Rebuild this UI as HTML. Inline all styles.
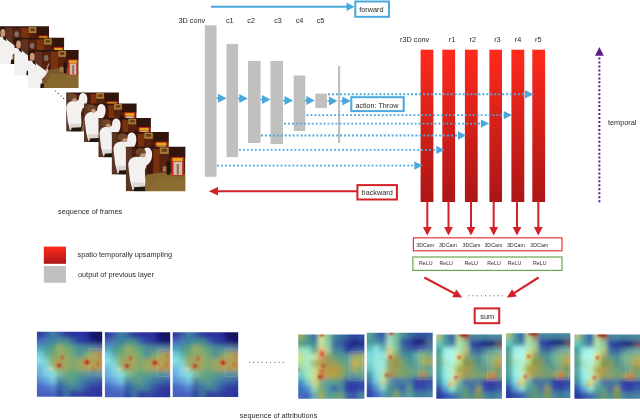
<!DOCTYPE html>
<html><head><meta charset="utf-8"><title>figure</title>
<style>
html,body{margin:0;padding:0;background:#fff;}
body{width:640px;height:420px;overflow:hidden;}
svg{display:block;}
text{font-family:"Liberation Sans",sans-serif;font-size:7.3px;fill:#2a2a2a;}
.s{font-size:5.3px;}
</style></head><body>
<svg width="640" height="420" viewBox="0 0 640 420">
<defs>
<linearGradient id="rg" x1="0" y1="0" x2="0" y2="1"><stop offset="0" stop-color="#ff2a1c"/><stop offset="1" stop-color="#ab1616"/></linearGradient>
<filter id="b1" x="-10%" y="-10%" width="120%" height="120%"><feGaussianBlur stdDeviation="1.5"/></filter>
<filter id="bh" x="-50%" y="-50%" width="200%" height="200%"><feGaussianBlur stdDeviation="1.6"/></filter>
<filter id="fp" x="-10%" y="-10%" width="120%" height="120%"><feGaussianBlur stdDeviation="0.7"/></filter>
<filter id="fg" x="-5%" y="-5%" width="110%" height="110%"><feGaussianBlur stdDeviation="2"/></filter>
<filter id="fh" x="-5%" y="-5%" width="110%" height="110%"><feGaussianBlur stdDeviation="0.9"/></filter>
<filter id="b2" x="-10%" y="-10%" width="120%" height="120%"><feGaussianBlur stdDeviation="3"/></filter>
<filter id="bg" x="-5%" y="-5%" width="110%" height="110%"><feGaussianBlur stdDeviation="2.4"/></filter>
<filter id="b3" x="-20%" y="-20%" width="140%" height="140%"><feGaussianBlur stdDeviation="5"/></filter>
<clipPath id="cf"><rect x="0" y="0" width="100" height="75"/></clipPath>
<clipPath id="ch"><rect x="0" y="0" width="100" height="100"/></clipPath>

<g id="ha"><rect width="100" height="100" fill="#a0a860"/>
<rect x="-20.0" y="-20.0" width="30.3" height="30.3" fill="#2f3ea0"/>
<rect x="9.7" y="-20.0" width="10.6" height="30.3" fill="#3a58a8"/>
<rect x="19.7" y="-20.0" width="10.6" height="30.3" fill="#3a80a0"/>
<rect x="29.7" y="-20.0" width="10.6" height="30.3" fill="#3a60a8"/>
<rect x="39.7" y="-20.0" width="10.6" height="30.3" fill="#2c3c9c"/>
<rect x="49.7" y="-20.0" width="10.6" height="30.3" fill="#2a30a0"/>
<rect x="59.7" y="-20.0" width="10.6" height="30.3" fill="#2c34a0"/>
<rect x="69.7" y="-20.0" width="10.6" height="30.3" fill="#2a2c98"/>
<rect x="79.7" y="-20.0" width="10.6" height="30.3" fill="#181870"/>
<rect x="89.7" y="-20.0" width="30.3" height="30.3" fill="#14145c"/>
<rect x="-20.0" y="9.7" width="30.3" height="10.6" fill="#4a68c0"/>
<rect x="9.7" y="9.7" width="10.6" height="10.6" fill="#4a80b0"/>
<rect x="19.7" y="9.7" width="10.6" height="10.6" fill="#3a80a0"/>
<rect x="29.7" y="9.7" width="10.6" height="10.6" fill="#4a9090"/>
<rect x="39.7" y="9.7" width="10.6" height="10.6" fill="#4a9088"/>
<rect x="49.7" y="9.7" width="10.6" height="10.6" fill="#3a68a8"/>
<rect x="59.7" y="9.7" width="10.6" height="10.6" fill="#3040a0"/>
<rect x="69.7" y="9.7" width="10.6" height="10.6" fill="#2c38a0"/>
<rect x="79.7" y="9.7" width="10.6" height="10.6" fill="#1c1c80"/>
<rect x="89.7" y="9.7" width="30.3" height="10.6" fill="#16166c"/>
<rect x="-20.0" y="19.7" width="30.3" height="10.6" fill="#48a0c0"/>
<rect x="9.7" y="19.7" width="10.6" height="10.6" fill="#4a9898"/>
<rect x="19.7" y="19.7" width="10.6" height="10.6" fill="#58a080"/>
<rect x="29.7" y="19.7" width="10.6" height="10.6" fill="#98b064"/>
<rect x="39.7" y="19.7" width="10.6" height="10.6" fill="#78a870"/>
<rect x="49.7" y="19.7" width="10.6" height="10.6" fill="#58a088"/>
<rect x="59.7" y="19.7" width="10.6" height="10.6" fill="#4a9090"/>
<rect x="69.7" y="19.7" width="10.6" height="10.6" fill="#4a8898"/>
<rect x="79.7" y="19.7" width="10.6" height="10.6" fill="#5a88a0"/>
<rect x="89.7" y="19.7" width="30.3" height="10.6" fill="#5a78a0"/>
<rect x="-20.0" y="29.7" width="30.3" height="10.6" fill="#70d0e0"/>
<rect x="9.7" y="29.7" width="10.6" height="10.6" fill="#58b0a0"/>
<rect x="19.7" y="29.7" width="10.6" height="10.6" fill="#78a870"/>
<rect x="29.7" y="29.7" width="10.6" height="10.6" fill="#90a868"/>
<rect x="39.7" y="29.7" width="10.6" height="10.6" fill="#94a864"/>
<rect x="49.7" y="29.7" width="10.6" height="10.6" fill="#70a878"/>
<rect x="59.7" y="29.7" width="10.6" height="10.6" fill="#4a9098"/>
<rect x="69.7" y="29.7" width="10.6" height="10.6" fill="#70a878"/>
<rect x="79.7" y="29.7" width="10.6" height="10.6" fill="#a4a860"/>
<rect x="89.7" y="29.7" width="30.3" height="10.6" fill="#aca25a"/>
<rect x="-20.0" y="39.7" width="30.3" height="10.6" fill="#88e0e8"/>
<rect x="9.7" y="39.7" width="10.6" height="10.6" fill="#80d0c8"/>
<rect x="19.7" y="39.7" width="10.6" height="10.6" fill="#98a860"/>
<rect x="29.7" y="39.7" width="10.6" height="10.6" fill="#a8a058"/>
<rect x="39.7" y="39.7" width="10.6" height="10.6" fill="#a0a860"/>
<rect x="49.7" y="39.7" width="10.6" height="10.6" fill="#80a870"/>
<rect x="59.7" y="39.7" width="10.6" height="10.6" fill="#98a860"/>
<rect x="69.7" y="39.7" width="10.6" height="10.6" fill="#b49850"/>
<rect x="79.7" y="39.7" width="10.6" height="10.6" fill="#b0a258"/>
<rect x="89.7" y="39.7" width="30.3" height="10.6" fill="#b49850"/>
<rect x="-20.0" y="49.7" width="30.3" height="10.6" fill="#70c0e0"/>
<rect x="9.7" y="49.7" width="10.6" height="10.6" fill="#88d8e8"/>
<rect x="19.7" y="49.7" width="10.6" height="10.6" fill="#a0b870"/>
<rect x="29.7" y="49.7" width="10.6" height="10.6" fill="#ac9858"/>
<rect x="39.7" y="49.7" width="10.6" height="10.6" fill="#94a864"/>
<rect x="49.7" y="49.7" width="10.6" height="10.6" fill="#80a870"/>
<rect x="59.7" y="49.7" width="10.6" height="10.6" fill="#9ca862"/>
<rect x="69.7" y="49.7" width="10.6" height="10.6" fill="#b4a052"/>
<rect x="79.7" y="49.7" width="10.6" height="10.6" fill="#b0a65a"/>
<rect x="89.7" y="49.7" width="30.3" height="10.6" fill="#b49a4c"/>
<rect x="-20.0" y="59.7" width="30.3" height="10.6" fill="#68b0e0"/>
<rect x="9.7" y="59.7" width="10.6" height="10.6" fill="#80d0e8"/>
<rect x="19.7" y="59.7" width="10.6" height="10.6" fill="#88e0e0"/>
<rect x="29.7" y="59.7" width="10.6" height="10.6" fill="#80c0a0"/>
<rect x="39.7" y="59.7" width="10.6" height="10.6" fill="#70a880"/>
<rect x="49.7" y="59.7" width="10.6" height="10.6" fill="#58a088"/>
<rect x="59.7" y="59.7" width="10.6" height="10.6" fill="#58a088"/>
<rect x="69.7" y="59.7" width="10.6" height="10.6" fill="#5c9890"/>
<rect x="79.7" y="59.7" width="10.6" height="10.6" fill="#5090a0"/>
<rect x="89.7" y="59.7" width="30.3" height="10.6" fill="#6090a0"/>
<rect x="-20.0" y="69.7" width="30.3" height="10.6" fill="#5a90d8"/>
<rect x="9.7" y="69.7" width="10.6" height="10.6" fill="#68a8e0"/>
<rect x="19.7" y="69.7" width="10.6" height="10.6" fill="#78c8e0"/>
<rect x="29.7" y="69.7" width="10.6" height="10.6" fill="#4a88a0"/>
<rect x="39.7" y="69.7" width="10.6" height="10.6" fill="#5a9890"/>
<rect x="49.7" y="69.7" width="10.6" height="10.6" fill="#58a088"/>
<rect x="59.7" y="69.7" width="10.6" height="10.6" fill="#4a88a0"/>
<rect x="69.7" y="69.7" width="10.6" height="10.6" fill="#4078a8"/>
<rect x="79.7" y="69.7" width="10.6" height="10.6" fill="#3f70a8"/>
<rect x="89.7" y="69.7" width="30.3" height="10.6" fill="#3a60a8"/>
<rect x="-20.0" y="79.7" width="30.3" height="10.6" fill="#4a68c8"/>
<rect x="9.7" y="79.7" width="10.6" height="10.6" fill="#5078d0"/>
<rect x="19.7" y="79.7" width="10.6" height="10.6" fill="#5a88d0"/>
<rect x="29.7" y="79.7" width="10.6" height="10.6" fill="#3a60a8"/>
<rect x="39.7" y="79.7" width="10.6" height="10.6" fill="#4078a0"/>
<rect x="49.7" y="79.7" width="10.6" height="10.6" fill="#4a8898"/>
<rect x="59.7" y="79.7" width="10.6" height="10.6" fill="#4080a0"/>
<rect x="69.7" y="79.7" width="10.6" height="10.6" fill="#3858a8"/>
<rect x="79.7" y="79.7" width="10.6" height="10.6" fill="#3040a0"/>
<rect x="89.7" y="79.7" width="30.3" height="10.6" fill="#3038a0"/>
<rect x="-20.0" y="89.7" width="30.3" height="30.3" fill="#4a60c0"/>
<rect x="9.7" y="89.7" width="10.6" height="30.3" fill="#4a60c0"/>
<rect x="19.7" y="89.7" width="10.6" height="30.3" fill="#4a68c0"/>
<rect x="29.7" y="89.7" width="10.6" height="30.3" fill="#2a48a0"/>
<rect x="39.7" y="89.7" width="10.6" height="30.3" fill="#3f70a0"/>
<rect x="49.7" y="89.7" width="10.6" height="30.3" fill="#3040a0"/>
<rect x="59.7" y="89.7" width="10.6" height="30.3" fill="#3448a0"/>
<rect x="69.7" y="89.7" width="10.6" height="30.3" fill="#3040a0"/>
<rect x="79.7" y="89.7" width="10.6" height="30.3" fill="#3038a0"/>
<rect x="89.7" y="89.7" width="30.3" height="30.3" fill="#2c34a0"/>
</g>
<g id="hax"><g><ellipse cx="34" cy="52" rx="3" ry="2.8" fill="#c4241a"/><ellipse cx="39" cy="40" rx="2" ry="3.5" fill="#d04a24" opacity=".9"/><ellipse cx="77" cy="47" rx="4" ry="3" fill="#c4241a"/><ellipse cx="96" cy="36" rx="1.6" ry="2" fill="#d04a24" opacity=".8"/><ellipse cx="94" cy="50" rx="1.6" ry="5" fill="#d85a28" opacity=".7"/><ellipse cx="86" cy="56" rx="1.5" ry="4" fill="#d85a28" opacity=".6"/><ellipse cx="22" cy="57" rx="4" ry="1.6" fill="#f0f0c0" opacity=".8"/></g></g>
<g id="hb1"><rect width="100" height="100" fill="#a09850"/>
<rect x="-20.0" y="-20.0" width="30.3" height="30.3" fill="#90a860"/>
<rect x="9.7" y="-20.0" width="10.6" height="30.3" fill="#4a9890"/>
<rect x="19.7" y="-20.0" width="10.6" height="30.3" fill="#3868a8"/>
<rect x="29.7" y="-20.0" width="10.6" height="30.3" fill="#d0e090"/>
<rect x="39.7" y="-20.0" width="10.6" height="30.3" fill="#88c8a0"/>
<rect x="49.7" y="-20.0" width="10.6" height="30.3" fill="#428498"/>
<rect x="59.7" y="-20.0" width="10.6" height="30.3" fill="#3a70a0"/>
<rect x="69.7" y="-20.0" width="10.6" height="30.3" fill="#3458a0"/>
<rect x="79.7" y="-20.0" width="10.6" height="30.3" fill="#2c44a0"/>
<rect x="89.7" y="-20.0" width="30.3" height="30.3" fill="#3050a0"/>
<rect x="-20.0" y="9.7" width="30.3" height="10.6" fill="#58a088"/>
<rect x="9.7" y="9.7" width="10.6" height="10.6" fill="#4a9890"/>
<rect x="19.7" y="9.7" width="10.6" height="10.6" fill="#3f8898"/>
<rect x="29.7" y="9.7" width="10.6" height="10.6" fill="#c8e4a0"/>
<rect x="39.7" y="9.7" width="10.6" height="10.6" fill="#90cca4"/>
<rect x="49.7" y="9.7" width="10.6" height="10.6" fill="#3a78a0"/>
<rect x="59.7" y="9.7" width="10.6" height="10.6" fill="#3458a0"/>
<rect x="69.7" y="9.7" width="10.6" height="10.6" fill="#2c3498"/>
<rect x="79.7" y="9.7" width="10.6" height="10.6" fill="#1c1c80"/>
<rect x="89.7" y="9.7" width="30.3" height="10.6" fill="#262c8c"/>
<rect x="-20.0" y="19.7" width="30.3" height="10.6" fill="#a0e0b8"/>
<rect x="9.7" y="19.7" width="10.6" height="10.6" fill="#90e8d0"/>
<rect x="19.7" y="19.7" width="10.6" height="10.6" fill="#5ca490"/>
<rect x="29.7" y="19.7" width="10.6" height="10.6" fill="#e8c078"/>
<rect x="39.7" y="19.7" width="10.6" height="10.6" fill="#a8d098"/>
<rect x="49.7" y="19.7" width="10.6" height="10.6" fill="#4a8898"/>
<rect x="59.7" y="19.7" width="10.6" height="10.6" fill="#4080a0"/>
<rect x="69.7" y="19.7" width="10.6" height="10.6" fill="#2c3ca0"/>
<rect x="79.7" y="19.7" width="10.6" height="10.6" fill="#3a50a8"/>
<rect x="89.7" y="19.7" width="30.3" height="10.6" fill="#4060a8"/>
<rect x="-20.0" y="29.7" width="30.3" height="10.6" fill="#d0e090"/>
<rect x="9.7" y="29.7" width="10.6" height="10.6" fill="#a0ecd0"/>
<rect x="19.7" y="29.7" width="10.6" height="10.6" fill="#c8e8a0"/>
<rect x="29.7" y="29.7" width="10.6" height="10.6" fill="#e89068"/>
<rect x="39.7" y="29.7" width="10.6" height="10.6" fill="#98a058"/>
<rect x="49.7" y="29.7" width="10.6" height="10.6" fill="#60a088"/>
<rect x="59.7" y="29.7" width="10.6" height="10.6" fill="#58988c"/>
<rect x="69.7" y="29.7" width="10.6" height="10.6" fill="#5c9ca0"/>
<rect x="79.7" y="29.7" width="10.6" height="10.6" fill="#98b070"/>
<rect x="89.7" y="29.7" width="30.3" height="10.6" fill="#a0b068"/>
<rect x="-20.0" y="39.7" width="30.3" height="10.6" fill="#b0e0a0"/>
<rect x="9.7" y="39.7" width="10.6" height="10.6" fill="#a8e8c0"/>
<rect x="19.7" y="39.7" width="10.6" height="10.6" fill="#a0b870"/>
<rect x="29.7" y="39.7" width="10.6" height="10.6" fill="#b0a050"/>
<rect x="39.7" y="39.7" width="10.6" height="10.6" fill="#a09850"/>
<rect x="49.7" y="39.7" width="10.6" height="10.6" fill="#98a058"/>
<rect x="59.7" y="39.7" width="10.6" height="10.6" fill="#70a078"/>
<rect x="69.7" y="39.7" width="10.6" height="10.6" fill="#60a898"/>
<rect x="79.7" y="39.7" width="10.6" height="10.6" fill="#c8b048"/>
<rect x="89.7" y="39.7" width="30.3" height="10.6" fill="#b0b060"/>
<rect x="-20.0" y="49.7" width="30.3" height="10.6" fill="#90d8c0"/>
<rect x="9.7" y="49.7" width="10.6" height="10.6" fill="#a8e8b8"/>
<rect x="19.7" y="49.7" width="10.6" height="10.6" fill="#c8e090"/>
<rect x="29.7" y="49.7" width="10.6" height="10.6" fill="#c89848"/>
<rect x="39.7" y="49.7" width="10.6" height="10.6" fill="#b89848"/>
<rect x="49.7" y="49.7" width="10.6" height="10.6" fill="#b89840"/>
<rect x="59.7" y="49.7" width="10.6" height="10.6" fill="#a0a050"/>
<rect x="69.7" y="49.7" width="10.6" height="10.6" fill="#68a088"/>
<rect x="79.7" y="49.7" width="10.6" height="10.6" fill="#a0b068"/>
<rect x="89.7" y="49.7" width="30.3" height="10.6" fill="#80a880"/>
<rect x="-20.0" y="59.7" width="30.3" height="10.6" fill="#70c8c8"/>
<rect x="9.7" y="59.7" width="10.6" height="10.6" fill="#a0e8c0"/>
<rect x="19.7" y="59.7" width="10.6" height="10.6" fill="#d0e088"/>
<rect x="29.7" y="59.7" width="10.6" height="10.6" fill="#c87840"/>
<rect x="39.7" y="59.7" width="10.6" height="10.6" fill="#b8a050"/>
<rect x="49.7" y="59.7" width="10.6" height="10.6" fill="#b0a048"/>
<rect x="59.7" y="59.7" width="10.6" height="10.6" fill="#90a060"/>
<rect x="69.7" y="59.7" width="10.6" height="10.6" fill="#5c9890"/>
<rect x="79.7" y="59.7" width="10.6" height="10.6" fill="#5a98a0"/>
<rect x="89.7" y="59.7" width="30.3" height="10.6" fill="#60a090"/>
<rect x="-20.0" y="69.7" width="30.3" height="10.6" fill="#4a90c0"/>
<rect x="9.7" y="69.7" width="10.6" height="10.6" fill="#78d0d0"/>
<rect x="19.7" y="69.7" width="10.6" height="10.6" fill="#d8d880"/>
<rect x="29.7" y="69.7" width="10.6" height="10.6" fill="#80ac84"/>
<rect x="39.7" y="69.7" width="10.6" height="10.6" fill="#58a0a0"/>
<rect x="49.7" y="69.7" width="10.6" height="10.6" fill="#58a090"/>
<rect x="59.7" y="69.7" width="10.6" height="10.6" fill="#4a9098"/>
<rect x="69.7" y="69.7" width="10.6" height="10.6" fill="#3448a8"/>
<rect x="79.7" y="69.7" width="10.6" height="10.6" fill="#3040a8"/>
<rect x="89.7" y="69.7" width="30.3" height="10.6" fill="#3850a8"/>
<rect x="-20.0" y="79.7" width="30.3" height="10.6" fill="#4070c0"/>
<rect x="9.7" y="79.7" width="10.6" height="10.6" fill="#5090d0"/>
<rect x="19.7" y="79.7" width="10.6" height="10.6" fill="#90d8b0"/>
<rect x="29.7" y="79.7" width="10.6" height="10.6" fill="#80a868"/>
<rect x="39.7" y="79.7" width="10.6" height="10.6" fill="#4a98a8"/>
<rect x="49.7" y="79.7" width="10.6" height="10.6" fill="#3a68a8"/>
<rect x="59.7" y="79.7" width="10.6" height="10.6" fill="#4a88a0"/>
<rect x="69.7" y="79.7" width="10.6" height="10.6" fill="#3038a8"/>
<rect x="79.7" y="79.7" width="10.6" height="10.6" fill="#3038a8"/>
<rect x="89.7" y="79.7" width="30.3" height="10.6" fill="#3448a8"/>
<rect x="-20.0" y="89.7" width="30.3" height="30.3" fill="#4a68c0"/>
<rect x="9.7" y="89.7" width="10.6" height="30.3" fill="#4068c0"/>
<rect x="19.7" y="89.7" width="10.6" height="30.3" fill="#6cacb4"/>
<rect x="29.7" y="89.7" width="10.6" height="30.3" fill="#a0a858"/>
<rect x="39.7" y="89.7" width="10.6" height="30.3" fill="#58a098"/>
<rect x="49.7" y="89.7" width="10.6" height="30.3" fill="#60a088"/>
<rect x="59.7" y="89.7" width="10.6" height="30.3" fill="#70a078"/>
<rect x="69.7" y="89.7" width="10.6" height="30.3" fill="#4268a4"/>
<rect x="79.7" y="89.7" width="10.6" height="30.3" fill="#3a58a8"/>
<rect x="89.7" y="89.7" width="30.3" height="30.3" fill="#4a88a0"/>
</g>
<g id="hb1x"><g><ellipse cx="36" cy="30" rx="2.5" ry="4" fill="#d83a38" opacity=".9"/><ellipse cx="38" cy="49" rx="2" ry="2" fill="#c82418"/><ellipse cx="33" cy="66" rx="3" ry="2.5" fill="#c0241a"/><ellipse cx="36" cy="57" rx="2" ry="1.5" fill="#d03c28"/><ellipse cx="36" cy="1" rx="4" ry="2" fill="#c82418"/><ellipse cx="0" cy="55" rx="2" ry="3" fill="#d86828"/></g></g>
<g id="hb2"><rect width="100" height="100" fill="#a09048"/>
<rect x="-20.0" y="-20.0" width="30.3" height="30.3" fill="#58a090"/>
<rect x="9.7" y="-20.0" width="10.6" height="30.3" fill="#3a78a0"/>
<rect x="19.7" y="-20.0" width="10.6" height="30.3" fill="#3050a8"/>
<rect x="29.7" y="-20.0" width="10.6" height="30.3" fill="#a0d8b0"/>
<rect x="39.7" y="-20.0" width="10.6" height="30.3" fill="#78b8a0"/>
<rect x="49.7" y="-20.0" width="10.6" height="30.3" fill="#4a9098"/>
<rect x="59.7" y="-20.0" width="10.6" height="30.3" fill="#3a70a0"/>
<rect x="69.7" y="-20.0" width="10.6" height="30.3" fill="#3458a0"/>
<rect x="79.7" y="-20.0" width="10.6" height="30.3" fill="#3050a0"/>
<rect x="89.7" y="-20.0" width="30.3" height="30.3" fill="#3a60a0"/>
<rect x="-20.0" y="9.7" width="30.3" height="10.6" fill="#48989c"/>
<rect x="9.7" y="9.7" width="10.6" height="10.6" fill="#4a90a0"/>
<rect x="19.7" y="9.7" width="10.6" height="10.6" fill="#4a80b0"/>
<rect x="29.7" y="9.7" width="10.6" height="10.6" fill="#a0e0c8"/>
<rect x="39.7" y="9.7" width="10.6" height="10.6" fill="#78bca4"/>
<rect x="49.7" y="9.7" width="10.6" height="10.6" fill="#3058a0"/>
<rect x="59.7" y="9.7" width="10.6" height="10.6" fill="#3040a0"/>
<rect x="69.7" y="9.7" width="10.6" height="10.6" fill="#1c1c80"/>
<rect x="79.7" y="9.7" width="10.6" height="10.6" fill="#1a1a78"/>
<rect x="89.7" y="9.7" width="30.3" height="10.6" fill="#4c6c90"/>
<rect x="-20.0" y="19.7" width="30.3" height="10.6" fill="#60c0c0"/>
<rect x="9.7" y="19.7" width="10.6" height="10.6" fill="#88e0e0"/>
<rect x="19.7" y="19.7" width="10.6" height="10.6" fill="#68b4b0"/>
<rect x="29.7" y="19.7" width="10.6" height="10.6" fill="#c0e0a0"/>
<rect x="39.7" y="19.7" width="10.6" height="10.6" fill="#84c098"/>
<rect x="49.7" y="19.7" width="10.6" height="10.6" fill="#3a78a0"/>
<rect x="59.7" y="19.7" width="10.6" height="10.6" fill="#3458a0"/>
<rect x="69.7" y="19.7" width="10.6" height="10.6" fill="#3c4ca8"/>
<rect x="79.7" y="19.7" width="10.6" height="10.6" fill="#4a68b0"/>
<rect x="89.7" y="19.7" width="30.3" height="10.6" fill="#4a78a8"/>
<rect x="-20.0" y="29.7" width="30.3" height="10.6" fill="#78d8d8"/>
<rect x="9.7" y="29.7" width="10.6" height="10.6" fill="#90e8e8"/>
<rect x="19.7" y="29.7" width="10.6" height="10.6" fill="#98e8e0"/>
<rect x="29.7" y="29.7" width="10.6" height="10.6" fill="#d0c878"/>
<rect x="39.7" y="29.7" width="10.6" height="10.6" fill="#90a860"/>
<rect x="49.7" y="29.7" width="10.6" height="10.6" fill="#4a9098"/>
<rect x="59.7" y="29.7" width="10.6" height="10.6" fill="#3f88a0"/>
<rect x="69.7" y="29.7" width="10.6" height="10.6" fill="#64b0a8"/>
<rect x="79.7" y="29.7" width="10.6" height="10.6" fill="#88b880"/>
<rect x="89.7" y="29.7" width="30.3" height="10.6" fill="#70a888"/>
<rect x="-20.0" y="39.7" width="30.3" height="10.6" fill="#80d8d0"/>
<rect x="9.7" y="39.7" width="10.6" height="10.6" fill="#98e8e0"/>
<rect x="19.7" y="39.7" width="10.6" height="10.6" fill="#98e4d8"/>
<rect x="29.7" y="39.7" width="10.6" height="10.6" fill="#94a460"/>
<rect x="39.7" y="39.7" width="10.6" height="10.6" fill="#a09048"/>
<rect x="49.7" y="39.7" width="10.6" height="10.6" fill="#78a070"/>
<rect x="59.7" y="39.7" width="10.6" height="10.6" fill="#4a9098"/>
<rect x="69.7" y="39.7" width="10.6" height="10.6" fill="#5aa8a0"/>
<rect x="79.7" y="39.7" width="10.6" height="10.6" fill="#a0b868"/>
<rect x="89.7" y="39.7" width="30.3" height="10.6" fill="#b0a050"/>
<rect x="-20.0" y="49.7" width="30.3" height="10.6" fill="#70c4c4"/>
<rect x="9.7" y="49.7" width="10.6" height="10.6" fill="#90e8e8"/>
<rect x="19.7" y="49.7" width="10.6" height="10.6" fill="#a8e8c8"/>
<rect x="29.7" y="49.7" width="10.6" height="10.6" fill="#98a860"/>
<rect x="39.7" y="49.7" width="10.6" height="10.6" fill="#a09850"/>
<rect x="49.7" y="49.7" width="10.6" height="10.6" fill="#78a070"/>
<rect x="59.7" y="49.7" width="10.6" height="10.6" fill="#68a080"/>
<rect x="69.7" y="49.7" width="10.6" height="10.6" fill="#5aa098"/>
<rect x="79.7" y="49.7" width="10.6" height="10.6" fill="#78a880"/>
<rect x="89.7" y="49.7" width="30.3" height="10.6" fill="#60a098"/>
<rect x="-20.0" y="59.7" width="30.3" height="10.6" fill="#48a0a8"/>
<rect x="9.7" y="59.7" width="10.6" height="10.6" fill="#88e0e8"/>
<rect x="19.7" y="59.7" width="10.6" height="10.6" fill="#b0e8b8"/>
<rect x="29.7" y="59.7" width="10.6" height="10.6" fill="#b08850"/>
<rect x="39.7" y="59.7" width="10.6" height="10.6" fill="#90a060"/>
<rect x="49.7" y="59.7" width="10.6" height="10.6" fill="#80a068"/>
<rect x="59.7" y="59.7" width="10.6" height="10.6" fill="#70a078"/>
<rect x="69.7" y="59.7" width="10.6" height="10.6" fill="#68a080"/>
<rect x="79.7" y="59.7" width="10.6" height="10.6" fill="#b09848"/>
<rect x="89.7" y="59.7" width="30.3" height="10.6" fill="#68a088"/>
<rect x="-20.0" y="69.7" width="30.3" height="10.6" fill="#3f80b0"/>
<rect x="9.7" y="69.7" width="10.6" height="10.6" fill="#78d0e8"/>
<rect x="19.7" y="69.7" width="10.6" height="10.6" fill="#c8e090"/>
<rect x="29.7" y="69.7" width="10.6" height="10.6" fill="#6898a0"/>
<rect x="39.7" y="69.7" width="10.6" height="10.6" fill="#4a70b0"/>
<rect x="49.7" y="69.7" width="10.6" height="10.6" fill="#4a88a0"/>
<rect x="59.7" y="69.7" width="10.6" height="10.6" fill="#4078a8"/>
<rect x="69.7" y="69.7" width="10.6" height="10.6" fill="#3448a8"/>
<rect x="79.7" y="69.7" width="10.6" height="10.6" fill="#3040a8"/>
<rect x="89.7" y="69.7" width="30.3" height="10.6" fill="#3850a8"/>
<rect x="-20.0" y="79.7" width="30.3" height="10.6" fill="#3858b0"/>
<rect x="9.7" y="79.7" width="10.6" height="10.6" fill="#5a98d8"/>
<rect x="19.7" y="79.7" width="10.6" height="10.6" fill="#90d8c0"/>
<rect x="29.7" y="79.7" width="10.6" height="10.6" fill="#4a9098"/>
<rect x="39.7" y="79.7" width="10.6" height="10.6" fill="#4a80a0"/>
<rect x="49.7" y="79.7" width="10.6" height="10.6" fill="#3a58a8"/>
<rect x="59.7" y="79.7" width="10.6" height="10.6" fill="#5a9888"/>
<rect x="69.7" y="79.7" width="10.6" height="10.6" fill="#3040a8"/>
<rect x="79.7" y="79.7" width="10.6" height="10.6" fill="#3448a8"/>
<rect x="89.7" y="79.7" width="30.3" height="10.6" fill="#3858a8"/>
<rect x="-20.0" y="89.7" width="30.3" height="30.3" fill="#3048a8"/>
<rect x="9.7" y="89.7" width="10.6" height="30.3" fill="#4a68c8"/>
<rect x="19.7" y="89.7" width="10.6" height="30.3" fill="#5a98c0"/>
<rect x="29.7" y="89.7" width="10.6" height="30.3" fill="#4a9090"/>
<rect x="39.7" y="89.7" width="10.6" height="30.3" fill="#80a060"/>
<rect x="49.7" y="89.7" width="10.6" height="30.3" fill="#4a88a0"/>
<rect x="59.7" y="89.7" width="10.6" height="30.3" fill="#58a090"/>
<rect x="69.7" y="89.7" width="10.6" height="30.3" fill="#4080a0"/>
<rect x="79.7" y="89.7" width="10.6" height="30.3" fill="#3f78a0"/>
<rect x="89.7" y="89.7" width="30.3" height="30.3" fill="#4a88a0"/>
</g>
<g id="hb2x"><g><ellipse cx="36" cy="38" rx="2.2" ry="2.6" fill="#c82c20"/><ellipse cx="30" cy="66" rx="2.2" ry="2" fill="#c02418"/><ellipse cx="37" cy="1" rx="3.5" ry="2" fill="#b81c14"/><ellipse cx="88" cy="66" rx="1.8" ry="1.5" fill="#e07030" opacity=".9"/><ellipse cx="34" cy="26" rx="1.5" ry="2.5" fill="#e8a050" opacity=".8"/></g></g>
<g id="hb3"><rect width="100" height="100" fill="#80944c"/>
<rect x="-20.0" y="-20.0" width="30.3" height="30.3" fill="#a8c080"/>
<rect x="9.7" y="-20.0" width="10.6" height="30.3" fill="#4a98a0"/>
<rect x="19.7" y="-20.0" width="10.6" height="30.3" fill="#3a60a8"/>
<rect x="29.7" y="-20.0" width="10.6" height="30.3" fill="#b0d890"/>
<rect x="39.7" y="-20.0" width="10.6" height="30.3" fill="#a07860"/>
<rect x="49.7" y="-20.0" width="10.6" height="30.3" fill="#4a8098"/>
<rect x="59.7" y="-20.0" width="10.6" height="30.3" fill="#4a88a0"/>
<rect x="69.7" y="-20.0" width="10.6" height="30.3" fill="#4080a0"/>
<rect x="79.7" y="-20.0" width="10.6" height="30.3" fill="#4a88a0"/>
<rect x="89.7" y="-20.0" width="30.3" height="30.3" fill="#4a8898"/>
<rect x="-20.0" y="9.7" width="30.3" height="10.6" fill="#60c8c0"/>
<rect x="9.7" y="9.7" width="10.6" height="10.6" fill="#48989c"/>
<rect x="19.7" y="9.7" width="10.6" height="10.6" fill="#4a78a8"/>
<rect x="29.7" y="9.7" width="10.6" height="10.6" fill="#b0e4a8"/>
<rect x="39.7" y="9.7" width="10.6" height="10.6" fill="#90c8a0"/>
<rect x="49.7" y="9.7" width="10.6" height="10.6" fill="#2c44a0"/>
<rect x="59.7" y="9.7" width="10.6" height="10.6" fill="#2c3498"/>
<rect x="69.7" y="9.7" width="10.6" height="10.6" fill="#1c1c80"/>
<rect x="79.7" y="9.7" width="10.6" height="10.6" fill="#181870"/>
<rect x="89.7" y="9.7" width="30.3" height="10.6" fill="#5a4870"/>
<rect x="-20.0" y="19.7" width="30.3" height="10.6" fill="#48a098"/>
<rect x="9.7" y="19.7" width="10.6" height="10.6" fill="#9cf0ea"/>
<rect x="19.7" y="19.7" width="10.6" height="10.6" fill="#acf4ea"/>
<rect x="29.7" y="19.7" width="10.6" height="10.6" fill="#b0e8c0"/>
<rect x="39.7" y="19.7" width="10.6" height="10.6" fill="#b8c880"/>
<rect x="49.7" y="19.7" width="10.6" height="10.6" fill="#3a70a0"/>
<rect x="59.7" y="19.7" width="10.6" height="10.6" fill="#3a58a0"/>
<rect x="69.7" y="19.7" width="10.6" height="10.6" fill="#4c80a0"/>
<rect x="79.7" y="19.7" width="10.6" height="10.6" fill="#5c98a0"/>
<rect x="89.7" y="19.7" width="30.3" height="10.6" fill="#70a8a0"/>
<rect x="-20.0" y="29.7" width="30.3" height="10.6" fill="#60a890"/>
<rect x="9.7" y="29.7" width="10.6" height="10.6" fill="#acf6ea"/>
<rect x="19.7" y="29.7" width="10.6" height="10.6" fill="#b2f6ea"/>
<rect x="29.7" y="29.7" width="10.6" height="10.6" fill="#e0e070"/>
<rect x="39.7" y="29.7" width="10.6" height="10.6" fill="#98a060"/>
<rect x="49.7" y="29.7" width="10.6" height="10.6" fill="#58988c"/>
<rect x="59.7" y="29.7" width="10.6" height="10.6" fill="#4a9098"/>
<rect x="69.7" y="29.7" width="10.6" height="10.6" fill="#70b098"/>
<rect x="79.7" y="29.7" width="10.6" height="10.6" fill="#88b888"/>
<rect x="89.7" y="29.7" width="30.3" height="10.6" fill="#a0b068"/>
<rect x="-20.0" y="39.7" width="30.3" height="10.6" fill="#58a090"/>
<rect x="9.7" y="39.7" width="10.6" height="10.6" fill="#a8e8c0"/>
<rect x="19.7" y="39.7" width="10.6" height="10.6" fill="#acf4ea"/>
<rect x="29.7" y="39.7" width="10.6" height="10.6" fill="#c0d880"/>
<rect x="39.7" y="39.7" width="10.6" height="10.6" fill="#80944c"/>
<rect x="49.7" y="39.7" width="10.6" height="10.6" fill="#889858"/>
<rect x="59.7" y="39.7" width="10.6" height="10.6" fill="#4a9090"/>
<rect x="69.7" y="39.7" width="10.6" height="10.6" fill="#68a890"/>
<rect x="79.7" y="39.7" width="10.6" height="10.6" fill="#90b078"/>
<rect x="89.7" y="39.7" width="30.3" height="10.6" fill="#c0a048"/>
<rect x="-20.0" y="49.7" width="30.3" height="10.6" fill="#58a89c"/>
<rect x="9.7" y="49.7" width="10.6" height="10.6" fill="#9cf0ea"/>
<rect x="19.7" y="49.7" width="10.6" height="10.6" fill="#bcecb0"/>
<rect x="29.7" y="49.7" width="10.6" height="10.6" fill="#a8a850"/>
<rect x="39.7" y="49.7" width="10.6" height="10.6" fill="#b09848"/>
<rect x="49.7" y="49.7" width="10.6" height="10.6" fill="#78a070"/>
<rect x="59.7" y="49.7" width="10.6" height="10.6" fill="#70a078"/>
<rect x="69.7" y="49.7" width="10.6" height="10.6" fill="#5a9890"/>
<rect x="79.7" y="49.7" width="10.6" height="10.6" fill="#80a880"/>
<rect x="89.7" y="49.7" width="30.3" height="10.6" fill="#789868"/>
<rect x="-20.0" y="59.7" width="30.3" height="10.6" fill="#48a0a0"/>
<rect x="9.7" y="59.7" width="10.6" height="10.6" fill="#96f0f0"/>
<rect x="19.7" y="59.7" width="10.6" height="10.6" fill="#b8f4d0"/>
<rect x="29.7" y="59.7" width="10.6" height="10.6" fill="#d0b058"/>
<rect x="39.7" y="59.7" width="10.6" height="10.6" fill="#90a060"/>
<rect x="49.7" y="59.7" width="10.6" height="10.6" fill="#90a060"/>
<rect x="59.7" y="59.7" width="10.6" height="10.6" fill="#70a078"/>
<rect x="69.7" y="59.7" width="10.6" height="10.6" fill="#90a05c"/>
<rect x="79.7" y="59.7" width="10.6" height="10.6" fill="#d09038"/>
<rect x="89.7" y="59.7" width="30.3" height="10.6" fill="#80a070"/>
<rect x="-20.0" y="69.7" width="30.3" height="10.6" fill="#3f88a8"/>
<rect x="9.7" y="69.7" width="10.6" height="10.6" fill="#80e0e8"/>
<rect x="19.7" y="69.7" width="10.6" height="10.6" fill="#e0d868"/>
<rect x="29.7" y="69.7" width="10.6" height="10.6" fill="#78b8a4"/>
<rect x="39.7" y="69.7" width="10.6" height="10.6" fill="#4a70a8"/>
<rect x="49.7" y="69.7" width="10.6" height="10.6" fill="#4274a4"/>
<rect x="59.7" y="69.7" width="10.6" height="10.6" fill="#4078a0"/>
<rect x="69.7" y="69.7" width="10.6" height="10.6" fill="#3040a8"/>
<rect x="79.7" y="69.7" width="10.6" height="10.6" fill="#3038a8"/>
<rect x="89.7" y="69.7" width="30.3" height="10.6" fill="#3448a8"/>
<rect x="-20.0" y="79.7" width="30.3" height="10.6" fill="#3050a8"/>
<rect x="9.7" y="79.7" width="10.6" height="10.6" fill="#5aa4dc"/>
<rect x="19.7" y="79.7" width="10.6" height="10.6" fill="#90e0c8"/>
<rect x="29.7" y="79.7" width="10.6" height="10.6" fill="#58a0a0"/>
<rect x="39.7" y="79.7" width="10.6" height="10.6" fill="#5a9888"/>
<rect x="49.7" y="79.7" width="10.6" height="10.6" fill="#4a68a0"/>
<rect x="59.7" y="79.7" width="10.6" height="10.6" fill="#90985c"/>
<rect x="69.7" y="79.7" width="10.6" height="10.6" fill="#3448a8"/>
<rect x="79.7" y="79.7" width="10.6" height="10.6" fill="#3040a8"/>
<rect x="89.7" y="79.7" width="30.3" height="10.6" fill="#3858a8"/>
<rect x="-20.0" y="89.7" width="30.3" height="30.3" fill="#2c3ca0"/>
<rect x="9.7" y="89.7" width="10.6" height="30.3" fill="#3a50b0"/>
<rect x="19.7" y="89.7" width="10.6" height="30.3" fill="#4268b4"/>
<rect x="29.7" y="89.7" width="10.6" height="30.3" fill="#4a8898"/>
<rect x="39.7" y="89.7" width="10.6" height="30.3" fill="#689870"/>
<rect x="49.7" y="89.7" width="10.6" height="30.3" fill="#4a9090"/>
<rect x="59.7" y="89.7" width="10.6" height="30.3" fill="#809850"/>
<rect x="69.7" y="89.7" width="10.6" height="30.3" fill="#4a88a0"/>
<rect x="79.7" y="89.7" width="10.6" height="30.3" fill="#4078a0"/>
<rect x="89.7" y="89.7" width="30.3" height="30.3" fill="#4a88a0"/>
</g>
<g id="hb3x"><g><ellipse cx="35" cy="36" rx="2.2" ry="2.8" fill="#d03424"/><ellipse cx="30" cy="67" rx="2.5" ry="2.2" fill="#d03c30"/><ellipse cx="42" cy="0.5" rx="8" ry="2.6" fill="#a81c14"/><ellipse cx="87" cy="65" rx="3" ry="1.6" fill="#d86030" opacity=".8"/><ellipse cx="99.5" cy="17" rx="2" ry="3.5" fill="#d05030"/><ellipse cx="20" cy="78" rx="2" ry="2.5" fill="#e8a050" opacity=".8"/></g></g>
</defs>
<svg x="-1.5" y="26.2" width="50.5" height="37.8"><g filter="url(#fp)"><g transform="scale(0.5050,0.5040)"><rect width="100" height="75" fill="#4e200f"/>
<g>
<rect x="-5" y="-5" width="110" height="9" fill="#30140a"/>
<rect x="14" y="3" width="14" height="40" fill="#5e3220"/>
<rect x="30" y="4" width="14" height="44" fill="#56240f"/>
<rect x="45" y="3" width="15" height="42" fill="#78320f"/>
<rect x="60" y="1.5" width="15" height="12" fill="#ad7e38"/>
<rect x="63" y="4" width="9" height="6" fill="#6a4018"/>
<rect x="60" y="15" width="10" height="28" fill="#5a2410"/>
<rect x="76" y="-2" width="30" height="22" fill="#33140a"/>
<polygon points="22,78 104,78 104,37 58,36 36,41" fill="#7a5a2c"/>
<polygon points="30,78 104,78 104,48 44,47" fill="#86682f"/>
<rect x="79" y="18.5" width="19.5" height="31" fill="#c22a1a"/>
<rect x="82.5" y="26.5" width="13" height="22" fill="#d2bcaa"/>
<rect x="87.5" y="30" width="3.5" height="18" fill="#8a6a5a"/>
<rect x="81" y="20.5" width="15.5" height="5" fill="#dcae1e"/>
<rect x="71" y="24" width="5" height="22" fill="#1e1410"/>
<rect x="62.5" y="33" width="7" height="10" fill="#9a7a44"/>
<ellipse cx="36" cy="16" rx="4.5" ry="6" fill="#98868a" opacity=".7"/>
<path d="M-2,20 L6,21 C12,22 15,25 19,29 L35,41 L38,44 L35,50 L28,57 L28,78 L-2,78 Z" fill="#f3f1ef"/>
<path d="M25,66 L31,66 L31,78 L24,78 Z" fill="#1a1210"/>
<ellipse cx="4.5" cy="7.5" rx="7.5" ry="8" fill="#2a1810"/>
<ellipse cx="8.5" cy="13.5" rx="4.8" ry="8" fill="#c89878"/>
<path d="M8,21 L14,23 L16,30 L10,26 Z" fill="#1a1210"/>
<ellipse cx="37.5" cy="41" rx="2.5" ry="4" fill="#e8b0a8"/>
<path d="M37,38 L41,27" stroke="#d8d0d0" stroke-width="1.5"/>
</g></g></g></svg>
<svg x="14.3" y="37.8" width="49.8" height="37.4"><g filter="url(#fp)"><g transform="scale(0.4980,0.4987)"><rect width="100" height="75" fill="#4e200f"/>
<g>
<rect x="-5" y="-5" width="110" height="9" fill="#30140a"/>
<rect x="14" y="3" width="14" height="40" fill="#5e3220"/>
<rect x="30" y="4" width="14" height="44" fill="#56240f"/>
<rect x="45" y="3" width="15" height="42" fill="#78320f"/>
<rect x="60" y="1.5" width="15" height="12" fill="#ad7e38"/>
<rect x="63" y="4" width="9" height="6" fill="#6a4018"/>
<rect x="60" y="15" width="10" height="28" fill="#5a2410"/>
<rect x="76" y="-2" width="30" height="22" fill="#33140a"/>
<polygon points="22,78 104,78 104,37 58,36 36,41" fill="#7a5a2c"/>
<polygon points="30,78 104,78 104,48 44,47" fill="#86682f"/>
<rect x="79" y="18.5" width="19.5" height="31" fill="#c22a1a"/>
<rect x="82.5" y="26.5" width="13" height="22" fill="#d2bcaa"/>
<rect x="87.5" y="30" width="3.5" height="18" fill="#8a6a5a"/>
<rect x="81" y="20.5" width="15.5" height="5" fill="#dcae1e"/>
<rect x="71" y="24" width="5" height="22" fill="#1e1410"/>
<rect x="62.5" y="33" width="7" height="10" fill="#9a7a44"/>
<ellipse cx="36" cy="16" rx="4.5" ry="6" fill="#98868a" opacity=".7"/>
<path d="M-2,20 L6,21 C12,22 15,25 19,29 L35,41 L38,44 L35,50 L28,57 L28,78 L-2,78 Z" fill="#f3f1ef"/>
<path d="M25,66 L31,66 L31,78 L24,78 Z" fill="#1a1210"/>
<ellipse cx="4.5" cy="7.5" rx="7.5" ry="8" fill="#2a1810"/>
<ellipse cx="8.5" cy="13.5" rx="4.8" ry="8" fill="#c89878"/>
<path d="M8,21 L14,23 L16,30 L10,26 Z" fill="#1a1210"/>
<ellipse cx="37.5" cy="41" rx="2.5" ry="4" fill="#e8b0a8"/>
<path d="M37,38 L41,27" stroke="#d8d0d0" stroke-width="1.5"/>
</g></g></g></svg>
<svg x="28" y="50" width="50.6" height="38"><g filter="url(#fp)"><g transform="scale(0.5060,0.5067)"><rect width="100" height="75" fill="#4e200f"/>
<g>
<rect x="-5" y="-5" width="110" height="9" fill="#30140a"/>
<rect x="14" y="3" width="14" height="40" fill="#5e3220"/>
<rect x="30" y="4" width="14" height="44" fill="#56240f"/>
<rect x="45" y="3" width="15" height="42" fill="#78320f"/>
<rect x="60" y="1.5" width="15" height="12" fill="#ad7e38"/>
<rect x="63" y="4" width="9" height="6" fill="#6a4018"/>
<rect x="60" y="15" width="10" height="28" fill="#5a2410"/>
<rect x="76" y="-2" width="30" height="22" fill="#33140a"/>
<polygon points="22,78 104,78 104,37 58,36 36,41" fill="#7a5a2c"/>
<polygon points="30,78 104,78 104,48 44,47" fill="#86682f"/>
<rect x="79" y="18.5" width="19.5" height="31" fill="#c22a1a"/>
<rect x="82.5" y="26.5" width="13" height="22" fill="#d2bcaa"/>
<rect x="87.5" y="30" width="3.5" height="18" fill="#8a6a5a"/>
<rect x="81" y="20.5" width="15.5" height="5" fill="#dcae1e"/>
<rect x="71" y="24" width="5" height="22" fill="#1e1410"/>
<rect x="62.5" y="33" width="7" height="10" fill="#9a7a44"/>
<ellipse cx="36" cy="16" rx="4.5" ry="6" fill="#98868a" opacity=".7"/>
<path d="M-2,20 L6,21 C12,22 15,25 19,29 L35,41 L38,44 L35,50 L28,57 L28,78 L-2,78 Z" fill="#f3f1ef"/>
<path d="M25,66 L31,66 L31,78 L24,78 Z" fill="#1a1210"/>
<ellipse cx="4.5" cy="7.5" rx="7.5" ry="8" fill="#2a1810"/>
<ellipse cx="8.5" cy="13.5" rx="4.8" ry="8" fill="#c89878"/>
<path d="M8,21 L14,23 L16,30 L10,26 Z" fill="#1a1210"/>
<ellipse cx="37.5" cy="41" rx="2.5" ry="4" fill="#e8b0a8"/>
<path d="M37,38 L41,27" stroke="#d8d0d0" stroke-width="1.5"/>
</g></g></g></svg>
<circle cx="55.5" cy="91" r="0.6" fill="#333"/>
<circle cx="58.2" cy="93.4" r="0.6" fill="#333"/>
<circle cx="61" cy="96" r="0.6" fill="#333"/>
<circle cx="63.6" cy="98.4" r="0.6" fill="#333"/>
<svg x="66.2" y="92.5" width="52.7" height="39"><g filter="url(#fp)"><g transform="scale(0.5270,0.5200)"><rect width="100" height="75" fill="#4e200f"/>
<g>
<rect x="-5" y="-5" width="110" height="9" fill="#30140a"/>
<rect x="0" y="0" width="10" height="75" fill="#5a3426"/>
<rect x="36" y="4" width="10" height="44" fill="#42180b"/>
<rect x="46" y="3" width="11" height="45" fill="#74300f"/>
<rect x="57" y="1" width="15" height="11" fill="#a97a36"/>
<rect x="60" y="3.5" width="9" height="5" fill="#6a4018"/>
<rect x="57" y="13" width="12" height="32" fill="#5a2410"/>
<rect x="73" y="-2" width="30" height="20" fill="#33140a"/>
<polygon points="28,78 104,78 104,46 60,43.5 34,47" fill="#84662f"/>
<polygon points="40,78 104,78 104,56 50,54" fill="#8b6d33"/>
<rect x="76.5" y="17" width="21" height="31.5" fill="#c22a1a"/>
<rect x="80" y="25" width="14.5" height="22.5" fill="#d2bcaa"/>
<rect x="85.5" y="29" width="3.5" height="18" fill="#8a6a5a"/>
<rect x="78.5" y="19" width="17" height="5" fill="#dcae1e"/>
<rect x="68.8" y="24" width="5.4" height="23" fill="#1e1410"/>
<rect x="62" y="33" width="6" height="9" fill="#9a7a44"/>
</g><g transform="translate(-2,0)">
<path d="M2,30 C3,20 10,15 20,17 L26,14 C26,6 29,1 34,1 C40,1 43,8 42,16 C41,24 38,28 33,31 L30,40 L31,58 L29,71 L9,72 L5,56 Z" fill="#f3f1ef"/>
<path d="M8,60 L28,60 L29,71 L9,72 Z" fill="#dcd6d0"/>
<path d="M12,68 L30,67 L31,80 L11,80 Z" fill="#1a1210"/>
<ellipse cx="14" cy="9" rx="8.5" ry="7" fill="#6e472b"/>
<ellipse cx="18" cy="14.5" rx="4.5" ry="3.5" fill="#c39a80"/>
</g></g></g></svg>
<svg x="84" y="103.4" width="52.6" height="38.7"><g filter="url(#fp)"><g transform="scale(0.5260,0.5160)"><rect width="100" height="75" fill="#4e200f"/>
<g>
<rect x="-5" y="-5" width="110" height="9" fill="#30140a"/>
<rect x="0" y="0" width="10" height="75" fill="#5a3426"/>
<rect x="36" y="4" width="10" height="44" fill="#42180b"/>
<rect x="46" y="3" width="11" height="45" fill="#74300f"/>
<rect x="57" y="1" width="15" height="11" fill="#a97a36"/>
<rect x="60" y="3.5" width="9" height="5" fill="#6a4018"/>
<rect x="57" y="13" width="12" height="32" fill="#5a2410"/>
<rect x="73" y="-2" width="30" height="20" fill="#33140a"/>
<polygon points="28,78 104,78 104,46 60,43.5 34,47" fill="#84662f"/>
<polygon points="40,78 104,78 104,56 50,54" fill="#8b6d33"/>
<rect x="76.5" y="17" width="21" height="31.5" fill="#c22a1a"/>
<rect x="80" y="25" width="14.5" height="22.5" fill="#d2bcaa"/>
<rect x="85.5" y="29" width="3.5" height="18" fill="#8a6a5a"/>
<rect x="78.5" y="19" width="17" height="5" fill="#dcae1e"/>
<rect x="68.8" y="24" width="5.4" height="23" fill="#1e1410"/>
<rect x="62" y="33" width="6" height="9" fill="#9a7a44"/>
</g><g transform="translate(-1,0)">
<path d="M2,30 C3,20 10,15 20,17 L26,14 C26,6 29,1 34,1 C40,1 43,8 42,16 C41,24 38,28 33,31 L30,40 L31,58 L29,71 L9,72 L5,56 Z" fill="#f3f1ef"/>
<path d="M8,60 L28,60 L29,71 L9,72 Z" fill="#dcd6d0"/>
<path d="M12,68 L30,67 L31,80 L11,80 Z" fill="#1a1210"/>
<ellipse cx="15" cy="9" rx="8.5" ry="7" fill="#6e472b"/>
<ellipse cx="19" cy="14.5" rx="4.5" ry="3.5" fill="#c39a80"/>
</g></g></g></svg>
<svg x="98.4" y="118.1" width="52.5" height="39.2"><g filter="url(#fp)"><g transform="scale(0.5250,0.5227)"><rect width="100" height="75" fill="#4e200f"/>
<g>
<rect x="-5" y="-5" width="110" height="9" fill="#30140a"/>
<rect x="0" y="0" width="10" height="75" fill="#5a3426"/>
<rect x="36" y="4" width="10" height="44" fill="#42180b"/>
<rect x="46" y="3" width="11" height="45" fill="#74300f"/>
<rect x="57" y="1" width="15" height="11" fill="#a97a36"/>
<rect x="60" y="3.5" width="9" height="5" fill="#6a4018"/>
<rect x="57" y="13" width="12" height="32" fill="#5a2410"/>
<rect x="73" y="-2" width="30" height="20" fill="#33140a"/>
<polygon points="28,78 104,78 104,46 60,43.5 34,47" fill="#84662f"/>
<polygon points="40,78 104,78 104,56 50,54" fill="#8b6d33"/>
<rect x="76.5" y="17" width="21" height="31.5" fill="#c22a1a"/>
<rect x="80" y="25" width="14.5" height="22.5" fill="#d2bcaa"/>
<rect x="85.5" y="29" width="3.5" height="18" fill="#8a6a5a"/>
<rect x="78.5" y="19" width="17" height="5" fill="#dcae1e"/>
<rect x="68.8" y="24" width="5.4" height="23" fill="#1e1410"/>
<rect x="62" y="33" width="6" height="9" fill="#9a7a44"/>
</g><g transform="translate(0,0)">
<path d="M2,30 C3,20 10,15 20,17 L26,14 C26,6 29,1 34,1 C40,1 43,8 42,16 C41,24 38,28 33,31 L30,40 L31,58 L29,71 L9,72 L5,56 Z" fill="#f3f1ef"/>
<path d="M8,60 L28,60 L29,71 L9,72 Z" fill="#dcd6d0"/>
<path d="M12,68 L30,67 L31,80 L11,80 Z" fill="#1a1210"/>
<ellipse cx="15" cy="9" rx="8.5" ry="7" fill="#6e472b"/>
<ellipse cx="19" cy="14.5" rx="4.5" ry="3.5" fill="#c39a80"/>
</g></g></g></svg>
<svg x="111.7" y="132" width="57.1" height="42.5"><g filter="url(#fp)"><g transform="scale(0.5710,0.5667)"><rect width="100" height="75" fill="#4e200f"/>
<g>
<rect x="-5" y="-5" width="110" height="9" fill="#30140a"/>
<rect x="0" y="0" width="10" height="75" fill="#5a3426"/>
<rect x="36" y="4" width="10" height="44" fill="#42180b"/>
<rect x="46" y="3" width="11" height="45" fill="#74300f"/>
<rect x="57" y="1" width="15" height="11" fill="#a97a36"/>
<rect x="60" y="3.5" width="9" height="5" fill="#6a4018"/>
<rect x="57" y="13" width="12" height="32" fill="#5a2410"/>
<rect x="73" y="-2" width="30" height="20" fill="#33140a"/>
<polygon points="28,78 104,78 104,46 60,43.5 34,47" fill="#84662f"/>
<polygon points="40,78 104,78 104,56 50,54" fill="#8b6d33"/>
<rect x="76.5" y="17" width="21" height="31.5" fill="#c22a1a"/>
<rect x="80" y="25" width="14.5" height="22.5" fill="#d2bcaa"/>
<rect x="85.5" y="29" width="3.5" height="18" fill="#8a6a5a"/>
<rect x="78.5" y="19" width="17" height="5" fill="#dcae1e"/>
<rect x="68.8" y="24" width="5.4" height="23" fill="#1e1410"/>
<rect x="62" y="33" width="6" height="9" fill="#9a7a44"/>
</g><g transform="translate(1,0)">
<path d="M2,30 C3,20 10,15 20,17 L26,14 C26,6 29,1 34,1 C40,1 43,8 42,16 C41,24 38,28 33,31 L30,40 L31,58 L29,71 L9,72 L5,56 Z" fill="#f3f1ef"/>
<path d="M8,60 L28,60 L29,71 L9,72 Z" fill="#dcd6d0"/>
<path d="M12,68 L30,67 L31,80 L11,80 Z" fill="#1a1210"/>
<ellipse cx="18" cy="9" rx="8.5" ry="7" fill="#6e472b"/>
<ellipse cx="22" cy="14.5" rx="4.5" ry="3.5" fill="#c39a80"/>
</g></g></g></svg>
<svg x="125.8" y="146.8" width="59.6" height="44.5"><g filter="url(#fp)"><g transform="scale(0.5960,0.5933)"><rect width="100" height="75" fill="#4e200f"/>
<g>
<rect x="-5" y="-5" width="110" height="9" fill="#30140a"/>
<rect x="0" y="0" width="10" height="75" fill="#5a3426"/>
<rect x="36" y="4" width="10" height="44" fill="#42180b"/>
<rect x="46" y="3" width="11" height="45" fill="#74300f"/>
<rect x="57" y="1" width="15" height="11" fill="#a97a36"/>
<rect x="60" y="3.5" width="9" height="5" fill="#6a4018"/>
<rect x="57" y="13" width="12" height="32" fill="#5a2410"/>
<rect x="73" y="-2" width="30" height="20" fill="#33140a"/>
<polygon points="28,78 104,78 104,46 60,43.5 34,47" fill="#84662f"/>
<polygon points="40,78 104,78 104,56 50,54" fill="#8b6d33"/>
<rect x="76.5" y="17" width="21" height="31.5" fill="#c22a1a"/>
<rect x="80" y="25" width="14.5" height="22.5" fill="#d2bcaa"/>
<rect x="85.5" y="29" width="3.5" height="18" fill="#8a6a5a"/>
<rect x="78.5" y="19" width="17" height="5" fill="#dcae1e"/>
<rect x="68.8" y="24" width="5.4" height="23" fill="#1e1410"/>
<rect x="62" y="33" width="6" height="9" fill="#9a7a44"/>
</g><g transform="translate(2,0)">
<path d="M2,30 C3,20 10,15 20,17 L26,14 C26,6 29,1 34,1 C40,1 43,8 42,16 C41,24 38,28 33,31 L30,40 L31,58 L29,71 L9,72 L5,56 Z" fill="#f3f1ef"/>
<path d="M8,60 L28,60 L29,71 L9,72 Z" fill="#dcd6d0"/>
<path d="M12,68 L30,67 L31,80 L11,80 Z" fill="#1a1210"/>
<ellipse cx="23" cy="9" rx="8.5" ry="7" fill="#6e472b"/>
<ellipse cx="27" cy="14.5" rx="4.5" ry="3.5" fill="#c39a80"/>
</g></g></g></svg>
<text x="58" y="214.4">sequence of frames</text>
<rect x="43.8" y="246.6" width="22.2" height="17.2" fill="url(#rg)"/>
<rect x="43.8" y="266" width="22.2" height="16.8" fill="#c0c0c0"/>
<text x="77.5" y="257.2">spatio temporally upsampling</text>
<text x="78" y="276.9">output of previous layer</text>
<rect x="204.9" y="25.3" width="11.7" height="151.5" fill="#c0c0c0"/>
<rect x="226.5" y="44" width="11.6" height="113" fill="#c0c0c0"/>
<rect x="248" y="61" width="12.6" height="82" fill="#c0c0c0"/>
<rect x="270.5" y="61" width="12.5" height="83" fill="#c0c0c0"/>
<rect x="293.7" y="75.5" width="11.6" height="55.5" fill="#c0c0c0"/>
<rect x="315.3" y="93.6" width="11.7" height="14.5" fill="#c0c0c0"/>
<rect x="338" y="66" width="2.2" height="77" fill="#c0c0c0"/>
<line x1="216.5" y1="98.2" x2="219" y2="98.2" stroke="#4aa8dc" stroke-width="1.6"/>
<polygon points="218,93.7 226.5,98.2 218,102.7" fill="#4aa8dc"/>
<line x1="237.8" y1="98.6" x2="240.3" y2="98.6" stroke="#4aa8dc" stroke-width="1.6"/>
<polygon points="239.3,94.1 247.8,98.6 239.3,103.1" fill="#4aa8dc"/>
<line x1="260.5" y1="99.6" x2="263" y2="99.6" stroke="#4aa8dc" stroke-width="1.6"/>
<polygon points="262,95.1 270.5,99.6 262,104.1" fill="#4aa8dc"/>
<line x1="283.0" y1="100.5" x2="285.5" y2="100.5" stroke="#4aa8dc" stroke-width="1.6"/>
<polygon points="284.5,96.0 293.0,100.5 284.5,105.0" fill="#4aa8dc"/>
<line x1="304.8" y1="100.6" x2="307.3" y2="100.6" stroke="#4aa8dc" stroke-width="1.6"/>
<polygon points="306.3,96.1 314.8,100.6 306.3,105.1" fill="#4aa8dc"/>
<line x1="327.5" y1="101" x2="330" y2="101" stroke="#4aa8dc" stroke-width="1.6"/>
<polygon points="329,96.5 337.5,101 329,105.5" fill="#4aa8dc"/>
<line x1="340.8" y1="101" x2="343.3" y2="101" stroke="#4aa8dc" stroke-width="1.6"/>
<polygon points="342.3,96.5 350.8,101 342.3,105.5" fill="#4aa8dc"/>
<text x="178.5" y="22.6">3D conv</text>
<text x="229.8" y="22.6" text-anchor="middle">c1</text>
<text x="251.2" y="22.6" text-anchor="middle">c2</text>
<text x="278" y="22.6" text-anchor="middle">c3</text>
<text x="299.5" y="22.6" text-anchor="middle">c4</text>
<text x="320.5" y="22.6" text-anchor="middle">c5</text>
<rect x="420.6" y="49.7" width="12.799999999999955" height="152.3" fill="url(#rg)"/>
<rect x="442.3" y="49.7" width="12.800000000000011" height="152.3" fill="url(#rg)"/>
<rect x="464.9" y="49.7" width="12.800000000000011" height="152.3" fill="url(#rg)"/>
<rect x="489.4" y="49.7" width="12.600000000000023" height="152.3" fill="url(#rg)"/>
<rect x="511.4" y="49.7" width="12.899999999999977" height="152.3" fill="url(#rg)"/>
<rect x="532.3" y="49.7" width="12.800000000000068" height="152.3" fill="url(#rg)"/>
<line x1="328" y1="94.2" x2="525" y2="94.2" stroke="#4aa8dc" stroke-width="1.9" stroke-dasharray="1.9 2.06"/>
<polygon points="525,90.0 533.6,94.2 525,98.4" fill="#4aa8dc"/>
<line x1="306.5" y1="115.1" x2="504" y2="115.1" stroke="#4aa8dc" stroke-width="1.9" stroke-dasharray="1.9 2.06"/>
<polygon points="503.7,110.89999999999999 512,115.1 503.7,119.3" fill="#4aa8dc"/>
<line x1="284" y1="123.6" x2="481" y2="123.6" stroke="#4aa8dc" stroke-width="1.9" stroke-dasharray="1.9 2.06"/>
<polygon points="480.9,119.39999999999999 489.2,123.6 480.9,127.8" fill="#4aa8dc"/>
<line x1="261" y1="135.5" x2="458" y2="135.5" stroke="#4aa8dc" stroke-width="1.9" stroke-dasharray="1.9 2.06"/>
<polygon points="458,131.3 466.2,135.5 458,139.7" fill="#4aa8dc"/>
<line x1="239" y1="149.9" x2="436.5" y2="149.9" stroke="#4aa8dc" stroke-width="1.9" stroke-dasharray="1.9 2.06"/>
<polygon points="436.3,145.70000000000002 444.5,149.9 436.3,154.1" fill="#4aa8dc"/>
<line x1="217.2" y1="165.6" x2="414.5" y2="165.6" stroke="#4aa8dc" stroke-width="1.9" stroke-dasharray="1.9 2.06"/>
<polygon points="414.3,161.4 422.9,165.6 414.3,169.79999999999998" fill="#4aa8dc"/>
<rect x="351.3" y="97.2" width="52.4" height="13.9" fill="#fff" stroke="#4aa8dc" stroke-width="2"/>
<text x="355.4" y="107.8" style="font-size:7.2px">action: Throw</text>
<line x1="211" y1="6.8" x2="348" y2="6.8" stroke="#4aa8dc" stroke-width="2.1"/>
<polygon points="346.5,2.5 354.6,6.8 346.5,11.1" fill="#4aa8dc"/>
<rect x="355.3" y="1.5" width="33.7" height="15.3" fill="#fff" stroke="#4aa8dc" stroke-width="2"/>
<text x="359.2" y="12">forward</text>
<line x1="216" y1="191.2" x2="357" y2="191.2" stroke="#d42027" stroke-width="2"/>
<polygon points="218,186.9 208.8,191.2 218,195.5" fill="#d42027"/>
<rect x="357.4" y="185.1" width="39.5" height="14.4" fill="#fff" stroke="#d42027" stroke-width="2"/>
<text x="361.6" y="195.2">backward</text>
<text x="400" y="42.2">r3D conv</text>
<text x="452" y="42.2" text-anchor="middle">r1</text>
<text x="472.9" y="42.2" text-anchor="middle">r2</text>
<text x="497.4" y="42.2" text-anchor="middle">r3</text>
<text x="518" y="42.2" text-anchor="middle">r4</text>
<text x="538.3" y="42.2" text-anchor="middle">r5</text>
<line x1="427.3" y1="201" x2="427.3" y2="228" stroke="#d42027" stroke-width="2"/>
<polygon points="422.90000000000003,226.9 431.7,226.9 427.3,235.5" fill="#d42027"/>
<line x1="448.5" y1="201" x2="448.5" y2="228" stroke="#d42027" stroke-width="2"/>
<polygon points="444.1,226.9 452.9,226.9 448.5,235.5" fill="#d42027"/>
<line x1="471" y1="201" x2="471" y2="228" stroke="#d42027" stroke-width="2"/>
<polygon points="466.6,226.9 475.4,226.9 471,235.5" fill="#d42027"/>
<line x1="493.7" y1="201" x2="493.7" y2="228" stroke="#d42027" stroke-width="2"/>
<polygon points="489.3,226.9 498.09999999999997,226.9 493.7,235.5" fill="#d42027"/>
<line x1="517" y1="201" x2="517" y2="228" stroke="#d42027" stroke-width="2"/>
<polygon points="512.6,226.9 521.4,226.9 517,235.5" fill="#d42027"/>
<line x1="538.3" y1="201" x2="538.3" y2="228" stroke="#d42027" stroke-width="2"/>
<polygon points="533.9,226.9 542.6999999999999,226.9 538.3,235.5" fill="#d42027"/>
<rect x="413.4" y="237.8" width="148.6" height="13" fill="#fff" stroke="#e0383a" stroke-width="1.2"/>
<rect x="412.9" y="257" width="149.1" height="13.4" fill="#fff" stroke="#6aa84f" stroke-width="1.2"/>
<text class="s" x="416.2" y="246.7">3DCam</text>
<text class="s" x="438.9" y="246.7">3DCam</text>
<text class="s" x="462.5" y="246.7">3DCam</text>
<text class="s" x="484.4" y="246.7">3DCam</text>
<text class="s" x="506.9" y="246.7">3DCam</text>
<text class="s" x="530.3" y="246.7">3DCam</text>
<text class="s" x="419" y="265">ReLU</text>
<text class="s" x="439.4" y="265">ReLU</text>
<text class="s" x="464.4" y="265">ReLU</text>
<text class="s" x="487.3" y="265">ReLU</text>
<text class="s" x="507.8" y="265">ReLU</text>
<text class="s" x="533" y="265">ReLU</text>
<line x1="424.3" y1="277.5" x2="455.13" y2="293.85" stroke="#d42027" stroke-width="2.1"/>
<polygon points="452.23,297.18 462.2,297.6 456.26,289.58" fill="#d42027"/>
<line x1="538.6" y1="277.5" x2="513.56" y2="293.33" stroke="#d42027" stroke-width="2.1"/>
<polygon points="512.11,289.16 506.8,297.6 516.71,296.43" fill="#d42027"/>
<circle cx="468.8" cy="295.7" r="0.55" fill="#333"/>
<circle cx="473.0" cy="295.7" r="0.55" fill="#333"/>
<circle cx="477.2" cy="295.7" r="0.55" fill="#333"/>
<circle cx="481.4" cy="295.7" r="0.55" fill="#333"/>
<circle cx="485.6" cy="295.7" r="0.55" fill="#333"/>
<circle cx="489.8" cy="295.7" r="0.55" fill="#333"/>
<circle cx="494.0" cy="295.7" r="0.55" fill="#333"/>
<circle cx="498.2" cy="295.7" r="0.55" fill="#333"/>
<circle cx="502.4" cy="295.7" r="0.55" fill="#333"/>
<rect x="474.7" y="308.4" width="24.5" height="14.8" fill="#fff" stroke="#d42027" stroke-width="2"/>
<text x="487.2" y="318.8" text-anchor="middle">sum</text>
<line x1="599.4" y1="57.6" x2="599.4" y2="203" stroke="#5b1e8c" stroke-width="2" stroke-dasharray="2 1.96"/>
<polygon points="595,55.8 603.8,55.8 599.4,47" fill="#5b1e8c"/>
<text x="608" y="124.5">temporal</text>
<svg x="36.9" y="331.7" width="65.3" height="65.1"><g filter="url(#fg)"><g transform="scale(0.6530,0.6510)"><use href="#ha"/></g></g><g filter="url(#fh)"><g transform="scale(0.6530,0.6510)"><use href="#hax"/></g></g><rect x="52.2" y="16.9" width="12.4" height="27.3" fill="none" stroke="#c8e8d0" stroke-opacity=".28" stroke-width=".6"/></svg>
<svg x="104.9" y="332.3" width="65.3" height="64.9"><g filter="url(#fg)"><g transform="scale(0.6530,0.6490)"><use href="#ha"/></g></g><g filter="url(#fh)"><g transform="scale(0.6530,0.6490)"><use href="#hax"/></g></g><rect x="52.2" y="16.9" width="12.4" height="27.3" fill="none" stroke="#c8e8d0" stroke-opacity=".28" stroke-width=".6"/></svg>
<svg x="172.7" y="332.3" width="65.5" height="64.7"><g filter="url(#fg)"><g transform="scale(0.6550,0.6470)"><use href="#ha"/></g></g><g filter="url(#fh)"><g transform="scale(0.6550,0.6470)"><use href="#hax"/></g></g><rect x="52.4" y="16.8" width="12.4" height="27.2" fill="none" stroke="#c8e8d0" stroke-opacity=".28" stroke-width=".6"/></svg>
<circle cx="249.6" cy="362.3" r="0.55" fill="#333"/>
<circle cx="253.8" cy="362.3" r="0.55" fill="#333"/>
<circle cx="258.0" cy="362.3" r="0.55" fill="#333"/>
<circle cx="262.2" cy="362.3" r="0.55" fill="#333"/>
<circle cx="266.4" cy="362.3" r="0.55" fill="#333"/>
<circle cx="270.6" cy="362.3" r="0.55" fill="#333"/>
<circle cx="274.9" cy="362.3" r="0.55" fill="#333"/>
<circle cx="279.1" cy="362.3" r="0.55" fill="#333"/>
<circle cx="283.3" cy="362.3" r="0.55" fill="#333"/>
<svg x="298.2" y="334.4" width="66.2" height="64.3"><g filter="url(#fg)"><g transform="scale(0.6620,0.6430)"><use href="#hb1"/></g></g><g filter="url(#fh)"><g transform="scale(0.6620,0.6430)"><use href="#hb1x"/></g></g><rect x="51.6" y="17.4" width="12.6" height="28.9" fill="none" stroke="#c8e8d0" stroke-opacity=".28" stroke-width=".6"/></svg>
<svg x="366.8" y="332.7" width="65.9" height="64.6"><g filter="url(#fg)"><g transform="scale(0.6590,0.6460)"><use href="#hb2"/></g></g><g filter="url(#fh)"><g transform="scale(0.6590,0.6460)"><use href="#hb2x"/></g></g><rect x="51.4" y="17.4" width="12.5" height="29.1" fill="none" stroke="#c8e8d0" stroke-opacity=".28" stroke-width=".6"/></svg>
<svg x="436.3" y="334.4" width="65.6" height="64.3"><g filter="url(#fg)"><g transform="scale(0.6560,0.6430)"><use href="#hb3"/></g></g><g filter="url(#fh)"><g transform="scale(0.6560,0.6430)"><use href="#hb3x"/></g></g><rect x="51.2" y="17.4" width="12.5" height="28.9" fill="none" stroke="#c8e8d0" stroke-opacity=".28" stroke-width=".6"/></svg>
<svg x="506" y="333.3" width="64.3" height="64.6"><g filter="url(#fg)"><g transform="scale(0.6430,0.6460)"><use href="#hb3"/></g></g><g filter="url(#fh)"><g transform="scale(0.6430,0.6460)"><use href="#hb3x"/></g></g><rect x="50.2" y="17.4" width="12.2" height="29.1" fill="none" stroke="#c8e8d0" stroke-opacity=".28" stroke-width=".6"/></svg>
<svg x="574.4" y="334.6" width="65.8" height="64.2"><g filter="url(#fg)"><g transform="scale(0.6580,0.6420)"><use href="#hb3"/></g></g><g filter="url(#fh)"><g transform="scale(0.6580,0.6420)"><use href="#hb3x"/></g></g><rect x="51.3" y="17.3" width="12.5" height="28.9" fill="none" stroke="#c8e8d0" stroke-opacity=".28" stroke-width=".6"/></svg>
<text x="239.8" y="417.7">sequence of attributions</text>
</svg></body></html>
